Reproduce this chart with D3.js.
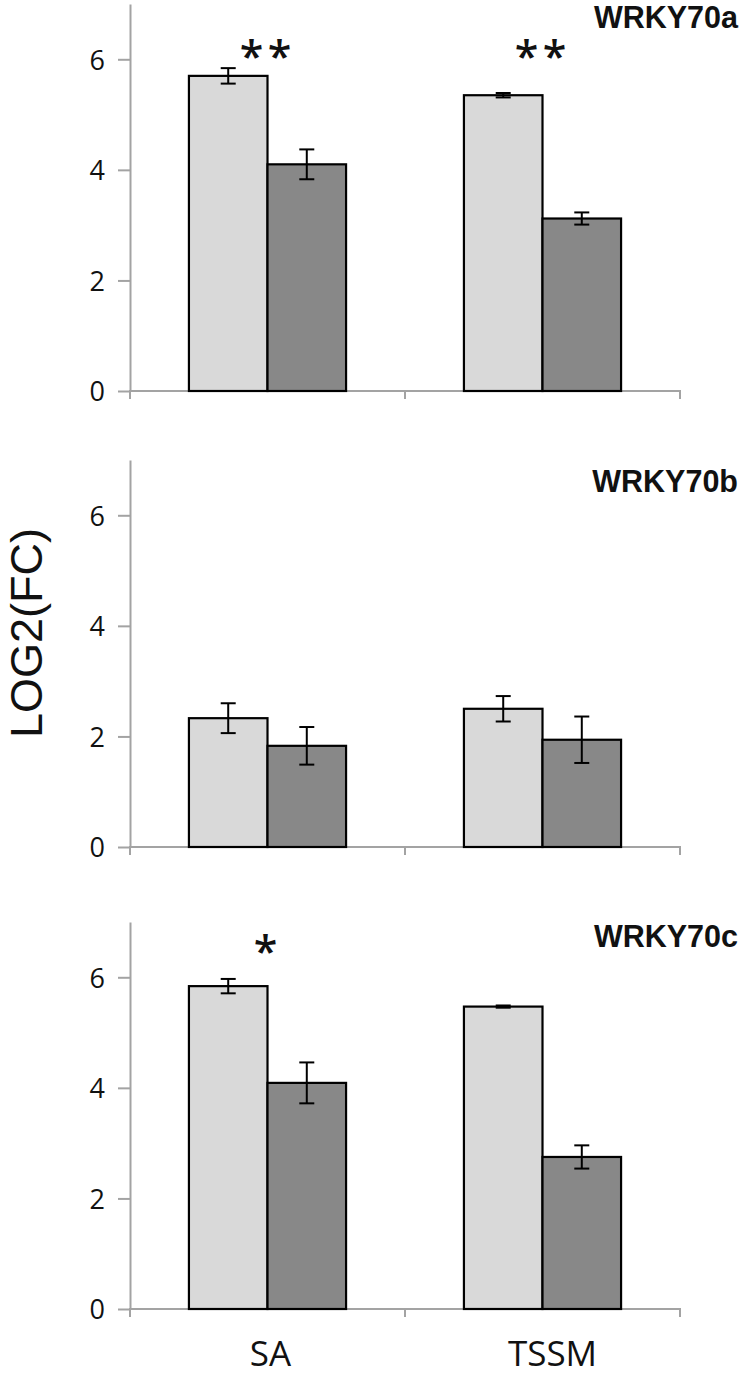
<!DOCTYPE html>
<html>
<head>
<meta charset="utf-8">
<script src="https://cdn.jsdelivr.net/npm/d3@7"></script>
<style>
  html, body { margin: 0; padding: 0; background: #fff; }
  svg { display: block; font-family: "Open Sans", "Noto Sans", sans-serif; }
</style>
</head>
<body>
<svg id="chart" width="750" height="1376"></svg>
<script>
// ---------- data ----------
const categories = ["SA", "TSSM"];
const series = ["light", "dark"];
const genes = ["WRKY70a", "WRKY70b", "WRKY70c"];
const yTicks = [0, 2, 4, 6];

// values per gene: [SA, TSSM]
const lightValues = [[5.70, 5.35], [2.33, 2.50], [5.84, 5.47]];
const lightErrors = [[0.14, 0.04], [0.27, 0.23], [0.13, 0.02]];
const darkValues  = [[4.10, 3.12], [1.83, 1.94], [4.09, 2.75]];
const darkErrors  = [[0.27, 0.11], [0.34, 0.42], [0.37, 0.21]];

// significance marks: gene index, category, label, value position
const sigGene  = [0, 0, 2];
const sigCat   = ["SA", "TSSM", "SA"];
const sigText  = ["**", "**", "*"];
const sigLevel = [6.26, 6.26, 6.68];

const yLabel = "LOG2(FC)";

// ---------- layout ----------
const panelZero = [391, 847, 1309];
const panelHeight = 387;
const xLeft = 130, xRight = 680;
const titleDrop = [24, 32, 25];
const labelNudge = [3, 10];
const colors = { light: "#d9d9d9", dark: "#888888" };
const axisColor = "#a3a3a3";
const mainFont = '"Open Sans", "Noto Sans", sans-serif';
const altFont = '"Liberation Sans", Arial, sans-serif';

const svg = d3.select("#chart");

const x0 = d3.scaleBand().domain(categories).range([xLeft, xRight]).paddingInner(0).paddingOuter(0);
const x1 = d3.scaleBand().domain(series).range([0, x0.bandwidth()]).paddingInner(0).paddingOuter(0.75);

genes.forEach((gene, gi) => {
  const y = d3.scaleLinear().domain([0, 7]).range([panelZero[gi], panelZero[gi] - panelHeight]);
  const g = svg.append("g");

  // y axis
  const yAxis = d3.axisLeft(y).tickValues(yTicks).tickSize(12).tickSizeOuter(0).tickPadding(13).tickFormat(d3.format("d"));
  const ya = g.append("g").attr("transform", `translate(${xLeft},0)`).call(yAxis);
  ya.attr("font-family", null).attr("font-size", null);
  ya.select(".domain").attr("stroke", axisColor).attr("stroke-width", 2);
  ya.selectAll(".tick line").attr("stroke", axisColor).attr("stroke-width", 2);
  ya.selectAll(".tick text").attr("fill", "#111")
    .style("font-family", mainFont).style("font-size", "27px").attr("dy", "0.36em");

  // x axis line and boundary ticks
  const bounds = categories.map(c => x0(c)).concat([x0.range()[1]]);
  g.append("line").attr("x1", xLeft - 1).attr("x2", xRight + 1)
    .attr("y1", y(0)).attr("y2", y(0)).attr("stroke", axisColor).attr("stroke-width", 2);
  g.selectAll(".xb").data(bounds).enter().append("line")
    .attr("x1", d => d).attr("x2", d => d)
    .attr("y1", y(0)).attr("y2", y(0) + 8)
    .attr("stroke", axisColor).attr("stroke-width", 2);

  // bars
  const rows = [];
  categories.forEach((c, ci) => {
    rows.push({ cat: c, s: "light", v: lightValues[gi][ci], e: lightErrors[gi][ci] });
    rows.push({ cat: c, s: "dark", v: darkValues[gi][ci], e: darkErrors[gi][ci] });
  });
  g.selectAll(".bar").data(rows).enter().append("rect")
    .attr("x", d => x0(d.cat) + x1(d.s))
    .attr("y", d => y(d.v))
    .attr("width", x1.bandwidth())
    .attr("height", d => y(0) - y(d.v))
    .attr("fill", d => colors[d.s])
    .attr("stroke", "#000").attr("stroke-width", 2.2);

  // error bars
  const eb = g.selectAll(".eb").data(rows).enter().append("g");
  const cx = d => x0(d.cat) + x1(d.s) + x1.bandwidth() / 2;
  eb.append("line").attr("x1", cx).attr("x2", cx)
    .attr("y1", d => y(d.v + d.e)).attr("y2", d => y(d.v - d.e))
    .attr("stroke", "#000").attr("stroke-width", 2);
  eb.append("line").attr("x1", d => cx(d) - 7.5).attr("x2", d => cx(d) + 7.5)
    .attr("y1", d => y(d.v + d.e)).attr("y2", d => y(d.v + d.e))
    .attr("stroke", "#000").attr("stroke-width", 2);
  eb.append("line").attr("x1", d => cx(d) - 7.5).attr("x2", d => cx(d) + 7.5)
    .attr("y1", d => y(d.v - d.e)).attr("y2", d => y(d.v - d.e))
    .attr("stroke", "#000").attr("stroke-width", 2);

  // significance marks
  sigGene.forEach((sg, si) => {
    if (sg !== gi) return;
    const center = x0(sigCat[si]) + x0.bandwidth() / 2 - 2;
    const chars = sigText[si].split("");
    const step = 28;
    chars.forEach((ch, k) => {
      g.append("text")
        .attr("x", center + (k - (chars.length - 1) / 2) * step)
        .attr("y", y(sigLevel[si]))
        .attr("text-anchor", "middle")
        .attr("dy", "0.64em")
        .style("font-size", "43px")
        .style("font-weight", "600")
        .attr("fill", "#111")
        .text(ch);
    });
  });

  // title
  g.append("text")
    .attr("x", 738).attr("y", y(7) + titleDrop[gi])
    .attr("text-anchor", "end")
    .style("font-family", altFont)
    .style("font-size", "30.5px").style("font-weight", "bold")
    .attr("fill", "#111")
    .text(gene);

  // category labels only on the bottom panel
  if (gi === genes.length - 1) {
    g.selectAll(".cl").data(categories).enter().append("text")
      .attr("x", (d, i) => x0(d) + x0.bandwidth() / 2 + labelNudge[i])
      .attr("y", y(0) + 57)
      .attr("text-anchor", "middle")
      .style("font-size", "35px")
      .attr("fill", "#111")
      .text(d => d);
  }
});

// y axis label
svg.append("text")
  .attr("transform", "translate(42,633) rotate(-90)")
  .attr("text-anchor", "middle")
  .style("font-family", altFont)
  .style("font-size", "45px")
  .attr("fill", "#111")
  .text(yLabel);
</script>
</body>
</html>
